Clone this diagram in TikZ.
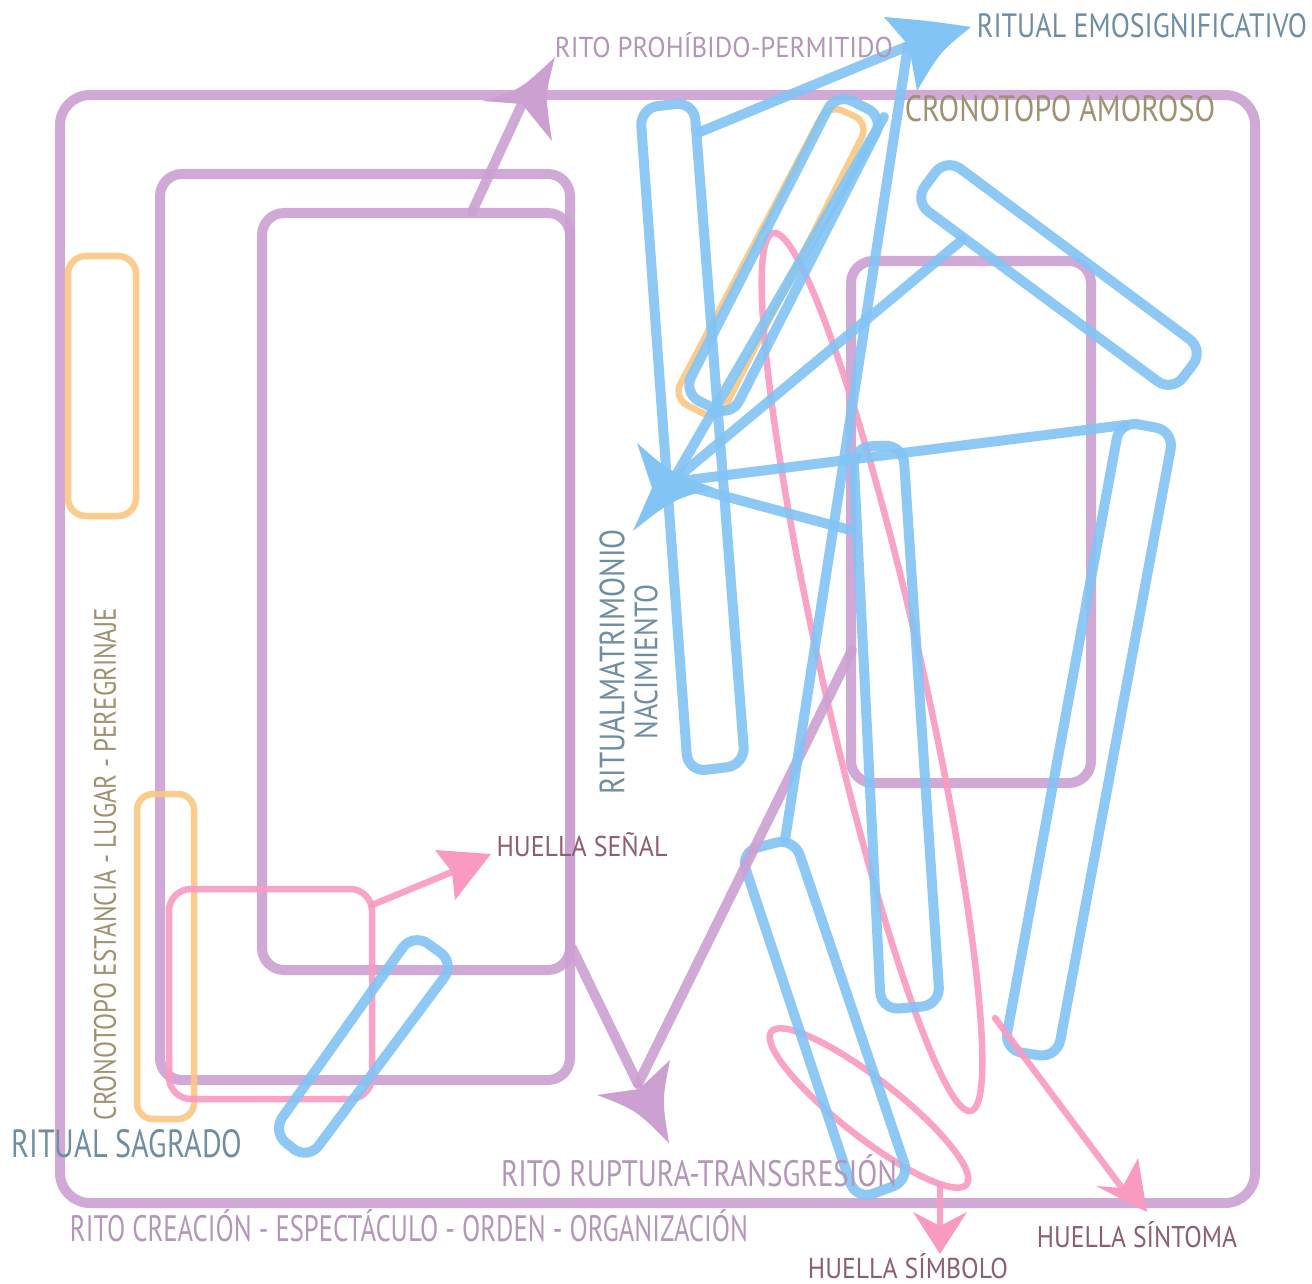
\documentclass[tikz,border=0pt]{standalone}
\usepackage{fontspec}
\setmainfont{PT Sans}
\usepackage{graphicx}
\definecolor{cpur}{RGB}{205,160,210}
\definecolor{cblu}{RGB}{130,196,244}
\definecolor{cora}{RGB}{250,200,130}
\definecolor{cpin}{RGB}{249,155,192}
\definecolor{tpur}{RGB}{180,150,185}
\definecolor{tblu}{RGB}{112,142,162}
\definecolor{tbro}{RGB}{160,145,112}
\definecolor{tmau}{RGB}{140,95,115}
\tikzset{
  pur/.style={draw=cpur,line width=10pt,draw opacity=0.9},
  blu/.style={draw=cblu,line width=10pt,draw opacity=0.9},
  ora/.style={draw=cora,line width=6.5pt,draw opacity=0.9},
  pin/.style={draw=cpin,line width=6.5pt,draw opacity=0.9},
  lbl/.style={inner sep=0pt,outer sep=0pt},
  rr/.style={rounded corners=22pt}
}
\newcommand{\fitlbl}[3]{\resizebox{#1pt}{#2pt}{#3}}
\begin{document}
\begin{tikzpicture}[x=1pt,y=-1pt,line join=round,line cap=round]
\useasboundingbox (0,0) rectangle (1312,1284);
\fill[white] (0,0) rectangle (1312,1284);

% ---------- purple frames ----------
\draw[pur,rounded corners=30pt] (60,95) rectangle (1255,1203);
\draw[pur,rr] (160,174) rectangle (570,1080);
\draw[pur,rr] (262,213) rectangle (570,970);
\draw[pur,rr] (851,261) rectangle (1091,783);

% ---------- orange frames ----------
\draw[ora,rounded corners=18pt] (68,256) rectangle (136,516);
\draw[ora,rounded corners=16pt] (137,794) rectangle (194,1119);
\draw[ora,rounded corners=16pt] (828,104) -- (869,123) -- (718,421) -- (673,398) -- cycle;

% ---------- pink frames ----------
\draw[pin,rr] (169,889) rectangle (372,1099);
\draw[pin,rotate around={12.7:(872,672)}] (872,672) ellipse (50 and 450);
\draw[pin,rotate around={-38:(869,1108)}] (869,1108) ellipse (124 and 29);

% ---------- blue frames ----------
\draw[blu,rounded corners=18pt] (640,108) -- (694,102) -- (745,765) -- (688,772) -- cycle;
\draw[blu,rounded corners=18pt] (836,93) -- (884,117) -- (731,417) -- (683,393) -- cycle;
\draw[blu,rounded corners=18pt] (946,158) -- (1204,350) -- (1172,392) -- (914,201) -- cycle;
\draw[blu,rounded corners=18pt] (1120,421) -- (1174,431) -- (1057,1058) -- (1004,1050) -- cycle;
\draw[blu,rounded corners=18pt] (853,447) -- (903,445) -- (940,1005) -- (881,1010) -- cycle;
\draw[blu,rounded corners=18pt] (740,852) -- (794,838) -- (910,1180) -- (856,1200) -- cycle;
\draw[blu,rounded corners=18pt] (413,933) -- (455,963) -- (308,1160) -- (272,1132) -- cycle;

% ---------- key points ----------
\coordinate (pA) at (472,212);
\coordinate (pAn) at (522,104);
\coordinate (pB1) at (572,948);
\coordinate (pB2) at (852,650);
\coordinate (pBn) at (638,1084);
\coordinate (bT) at (908,46);
\coordinate (bT1) at (700,132);
\coordinate (bT2) at (785,840);
\coordinate (bP) at (672,482);
\coordinate (bP1) at (884,117);
\coordinate (bP2) at (962,240);
\coordinate (bP3) at (1125,425);
\coordinate (bP4) at (850,530);
\coordinate (kS) at (372,905);
\coordinate (kSn) at (452,872);
\coordinate (kY) at (940,1186);
\coordinate (kYn) at (940,1226);
\coordinate (kT) at (995,1018);
\coordinate (kTn) at (1122,1188);

% ---------- connectors ----------
\draw[pur] (pA) -- (pAn);
\draw[pur] (pB1) -- (pBn);
\draw[pur] (pB2) -- (pBn);
\draw[blu] (bT1) -- (bT);
\draw[blu] (bT2) -- (bT);
\draw[blu] (bP1) -- (bP);
\draw[blu] (bP2) -- (bP);
\draw[blu] (bP3) -- (bP);
\draw[blu] (bP4) -- (bP);
\draw[pin] (kS) -- (kSn);
\draw[pin] (kY) -- (kYn);
\draw[pin] (kT) -- (kTn);

% ---------- arrowheads ----------
\fill[cpur] (555,57) .. controls (545,95) .. (552,141) -- (522,104) -- (482,101) .. controls (520,90) .. cycle;
\fill[cpur] (669,1143) .. controls (662,1100) .. (670,1060) -- (639,1089) -- (597,1095) .. controls (636,1110) .. cycle;
\fill[cblu] (971,27) .. controls (940,52) .. (917,91) -- (909,46) -- (884,17) .. controls (930,21) .. cycle;
\fill[cblu] (637,443) .. controls (670,472) .. (714,488) .. controls (672,500) .. (633,531) -- (652,488) -- cycle;
\fill[cpin] (491,854) -- (455,900) -- (452,872) -- (435,850) -- cycle;
\fill[cpin] (940,1254) -- (967,1212) -- (940,1226) -- (913,1212) -- cycle;
\fill[cpin] (1147,1212) -- (1138,1158) -- (1122,1188) -- (1096,1186) -- cycle;

% ---------- labels ----------
\node[lbl,text=tpur] (lProh) at (724,45.5) {\fitlbl{338}{25}{RITO PROHÍBIDO-PERMITIDO}};
\node[lbl,text=tblu] (lEmo) at (1142,26) {\fitlbl{330}{24}{RITUAL EMOSIGNIFICATIVO}};
\node[lbl,text=tbro] (lAmo) at (1060,109) {\fitlbl{310}{26}{CRONOTOPO AMOROSO}};
\node[lbl,text=tmau] (lSen) at (582,845) {\fitlbl{171}{24}{HUELLA SEÑAL}};
\node[lbl,text=tblu] (lSag) at (127,1144) {\fitlbl{231}{28}{RITUAL SAGRADO}};
\node[lbl,text=tpur] (lRup) at (699,1171) {\fitlbl{396}{32}{RITO RUPTURA-TRANSGRESIÓN}};
\node[lbl,text=tpur] (lCre) at (409,1226) {\fitlbl{678}{32}{RITO CREACIÓN - ESPECTÁCULO - ORDEN - ORGANIZACIÓN}};
\node[lbl,text=tmau] (lSim) at (908,1266) {\fitlbl{200}{25}{HUELLA SÍMBOLO}};
\node[lbl,text=tmau] (lSin) at (1137,1235) {\fitlbl{200}{26}{HUELLA SÍNTOMA}};
\node[lbl,text=tblu,rotate=90] (lMat) at (612,662) {\fitlbl{265}{25}{RITUALMATRIMONIO}};
\node[lbl,text=tblu,rotate=90] (lNac) at (646,662) {\fitlbl{155}{23}{NACIMIENTO}};
\node[lbl,text=tbro,rotate=90] (lEst) at (105,864) {\fitlbl{512}{22}{CRONOTOPO ESTANCIA - LUGAR - PEREGRINAJE}};
\end{tikzpicture}
\end{document}
